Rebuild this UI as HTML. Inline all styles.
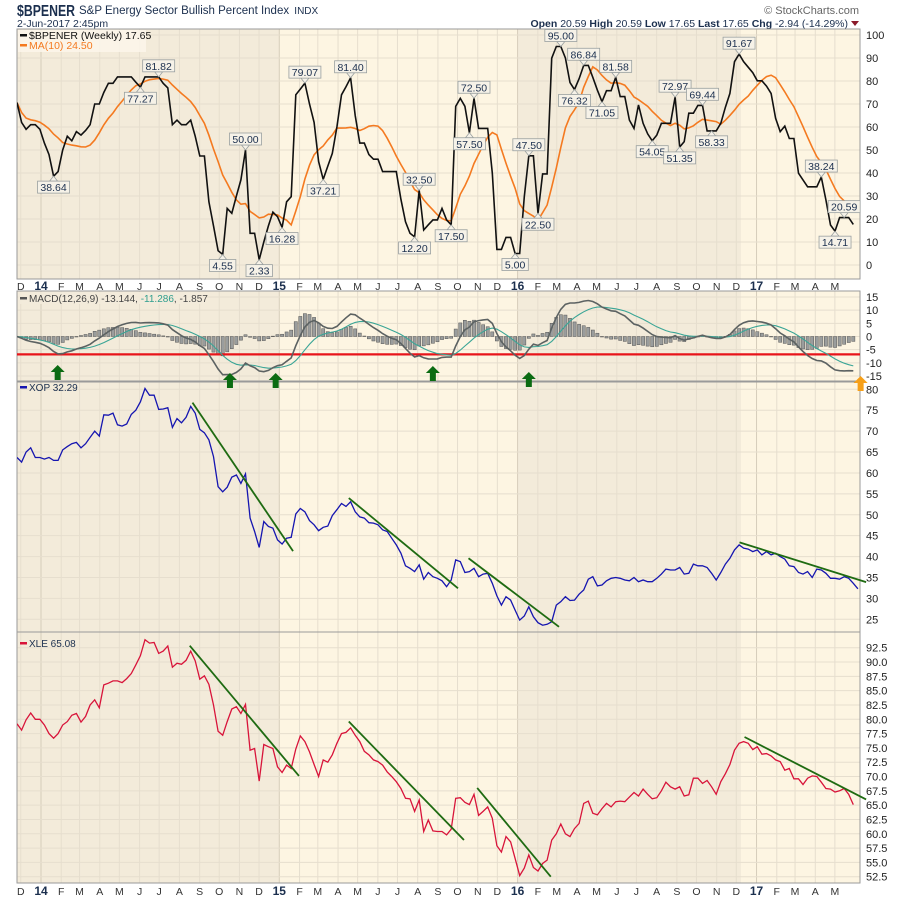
<!DOCTYPE html>
<html><head><meta charset="utf-8"><title>$BPENER chart</title>
<style>
html,body{margin:0;padding:0;background:#fff;}
svg{display:block;font-family:"Liberation Sans",Arial,sans-serif;}
</style></head>
<body>
<svg id="chart" width="900" height="900" viewBox="0 0 900 900" xmlns="http://www.w3.org/2000/svg">
  <g>
    <text x="17" y="16" font-size="16" font-weight="bold" fill="#1b2f4e" textLength="58" lengthAdjust="spacingAndGlyphs">$BPENER</text>
    <text x="79" y="14" font-size="11.5" fill="#1b2f4e">S&amp;P Energy Sector Bullish Percent Index <tspan font-size="10" dx="2">INDX</tspan></text>
    <text x="17" y="27" font-size="10.5" fill="#1b2f4e">2-Jun-2017 2:45pm</text>
    <text x="859" y="14" font-size="11" fill="#666" text-anchor="end">© StockCharts.com</text>
    <text x="848" y="27" font-size="10.5" fill="#1b2f4e" text-anchor="end"><tspan font-weight="bold">Open</tspan> 20.59  <tspan font-weight="bold">High</tspan> 20.59  <tspan font-weight="bold">Low</tspan> 17.65  <tspan font-weight="bold">Last</tspan> 17.65  <tspan font-weight="bold">Chg</tspan> -2.94 (-14.29%)</text>
    <polygon points="851,21 859,21 855,26" fill="#8b1a2a"/>
  </g>
  <g id="plot"></g>
</svg>
<script>
// ---------- DATA ----------
const bpener = [70.6,62,59,61,61,59,53,48,38.6,40.6,50,56,54,58,56.5,58.5,61,70,70,75,79,79,81.8,81.8,81.8,81.8,79.5,77.3,81.8,81.8,81.8,81.8,79,77,61,63,61,61,63,56,47.4,47.4,27.5,17,6.2,4.6,24.6,22.5,30,37,50,13.8,13.8,2.3,10,17,23,21,16.3,27.5,29.7,74,76.5,79.1,70,62,45,37.2,43,48.5,60,74,77.5,81.4,65,53,53,48,46,46,40.6,40.6,40.6,40.6,28.6,18.8,13.8,12.2,32.5,15.2,17.5,19.6,19.6,24.6,19.6,17.5,69,72.5,69,57.5,72.5,59.4,59.4,59.4,40,6.8,6.8,12,12,5,5,29.7,47.5,47.5,22.5,39.6,39.6,89.9,95,95,90,79.3,76.3,81,86.8,86.8,81.6,76,71,75.8,75.8,81.6,73.2,73.2,63,59.4,69.6,61.6,57,54,56.5,61.6,61.6,61.6,73,51.3,53.6,66,66,69.4,69.4,58.3,58.3,58.3,61.6,68.6,74.6,88.4,91.7,88.4,86,83.6,80.1,80.1,77.8,74.6,63.8,58,60.4,55,55,39.9,37,34,34,34,38.2,28.3,17.4,14.7,20.6,20.6,20.6,17.65];
const xop = [63.7,62.6,65,66,63.7,63.7,63.3,63.7,63,63,65.5,66.3,67,67.3,66,67,68.5,70,68.8,73.9,73.8,74.3,71.5,71.2,71.7,74,75,77,80.2,78.6,78.6,75.2,75.3,75.6,70.9,73,72,73.3,75.9,74.3,70.4,69.6,67.9,63.9,56.7,55.5,56.6,59,59.5,57.5,59.8,49.2,46,42.2,48.4,47.2,46.8,44,43,44.4,44.6,50.2,51.5,50.7,48.6,47.6,46.2,47,47.3,49.8,51.2,52.7,52,53.1,50.7,49.5,49.2,48.1,48,47.6,46.4,46,44.4,42.8,40.8,37.8,37.2,36.4,38,34.6,36.2,35.2,34.8,34.2,32.8,34.4,39.2,38.8,36.2,36.4,37.2,35.2,35.8,36,33.6,30.6,28.4,30.4,29.6,27.2,24.8,25.8,28,25.6,24.2,23.6,23.8,24.4,28.4,29.2,30.4,29.5,29.6,31,32,34.6,35.2,33,33.2,34.2,34.8,35,34.8,34.4,34.2,35,34,34.4,34,34,34.8,35.8,37,36.8,36.8,37.4,35.8,36,38.2,37.8,37.8,37.4,36,34.4,36.2,38.2,39.6,41.6,42.8,42,41.8,41.2,41.6,40.4,41.2,40.4,40.8,40,39.4,37.8,37.6,36.2,35.8,36.4,35,37,36.8,36,34.8,34.8,34.6,35.2,34.8,33.6,32.3];
const xle = [79.2,78.1,79.9,81.1,80,80,79,77.5,76.7,77.5,79,79.6,80.7,81,79.5,80.5,82.5,83.4,82,86,86.3,86.7,86.7,86.4,87.1,88,89.5,91.1,93.9,93.3,93.4,91.5,91.9,92.8,89.1,89.8,89.6,90.3,91.9,90.2,87,87.6,86.1,82.5,77.9,77.2,79.6,81.8,82.2,81,82.6,74.6,74.9,69.2,75.6,75.2,74.9,71.7,70.7,72,71.4,74.8,77.1,76.1,74.3,72.1,70,72.9,72.5,73.8,75.8,77.5,77.7,78.5,77.2,76.1,74.4,73.8,72.9,72.6,72,70.8,70,69.1,67.9,66.2,66.1,63.9,65.9,60.4,62.4,60.5,60.4,60.4,59.8,60.8,66.2,66.3,65.5,65.1,66.9,63.2,63.9,64.7,62.7,57.9,56.8,59.5,58.6,55.7,52.7,54,56.3,54.1,53.5,54.8,55.4,58.9,60,61.7,60,59.5,60.9,61.8,65.3,65.7,63.6,63.3,64.4,65.3,64.7,65.6,65.7,65.6,66.4,67.2,66.6,67.8,66.9,66.1,66.3,67.5,69,68.2,67.8,68.2,66.6,66.8,69.7,69.7,68.8,69.3,68.2,66.9,69.1,70.5,72.1,74.6,75.8,76.1,75.8,74.7,75.2,73.9,74,73.6,72.9,72.6,71.1,71.4,69.6,69.6,68.6,69.7,70.1,70,69,67.9,67.8,67.3,67.5,67.9,66.9,65.1];

// annotated peak/trough labels on $BPENER (week index, text, above/below)
const labelIdx = [8,27,31,45,50,53,58,63,67,73,87,88,95,99,100,109,112,114,119,122,124,128,131,139,144,145,150,152,158,176,179,181];
const labelText = ["38.64","77.27","81.82","4.55","50.00","2.33","16.28","79.07","37.21","81.40","12.20","32.50","17.50","57.50","72.50","5.00","47.50","22.50","95.00","76.32","86.84","71.05","81.58","54.05","72.97","51.35","69.44","58.33","91.67","38.24","14.71","20.59"];
const labelAbove = [0,0,1,0,1,0,0,1,0,1,0,1,0,0,1,0,1,0,1,0,1,0,1,0,1,0,1,0,1,1,0,1];

// trendlines: [startIdx, startVal, endIdx, endVal]
const xopTrendStart = [[38.4,76.8],[72.6,54.0],[98.8,39.6],[158.1,43.4]];
const xopTrendEnd   = [[60.4,41.3],[96.5,32.4],[118.6,23.2],[185.8,33.9]];
const xleTrendStart = [[37.8,92.85],[72.6,79.6],[100.7,68.0],[159.2,76.9]];
const xleTrendEnd   = [[61.7,70.1],[97.8,58.9],[116.8,52.5],[185.8,66.0]];

// buy/caution arrows in the MACD panel (week index)
const greenArrowIdx = [8.9,46.6,56.6,91.0,112.0];
const orangeArrowIdx = [184.6];
const macdThreshold = -6.8;

const bpTicks = [0,10,20,30,40,50,60,70,80,90,100];
const macdTicks = [15,10,5,0,-5,-10,-15];
const xopTicks = [25,30,35,40,45,50,55,60,65,70,75,80];
const xleTicks = [52.5,55.0,57.5,60.0,62.5,65.0,67.5,70.0,72.5,75.0,77.5,80.0,82.5,85.0,87.5,90.0,92.5];

// ---------- LAYOUT ----------
const NS = "http://www.w3.org/2000/svg";
const root = document.getElementById('plot');
const L = 17, R = 860;
const X = i => 17 + 4.57 * i;
const DAY0 = Date.UTC(2014,0,1);
const XD = (y,m) => 41 + ((Date.UTC(y,m,1) - DAY0) / 86400000 / 7) * 4.57;
const yBP = v => 265 - v * 2.3;
const yMACD = v => 336.5 - v * 2.633;
const yXOP = v => 389.3 + (80 - v) * 4.182;
const yXLE = v => 647.7 + (92.5 - v) * 5.725;

function el(tag, attrs, parent) {
  const e = document.createElementNS(NS, tag);
  for (const k in attrs) e.setAttribute(k, attrs[k]);
  (parent || root).appendChild(e);
  return e;
}
const panels = [
  {name:'bpener-panel', top:29, bot:279, ticks:bpTicks, y:yBP, fmt:v=>String(v)},
  {name:'macd-panel', top:291, bot:381, ticks:macdTicks, y:yMACD, fmt:v=>String(v)},
  {name:'xop-panel', top:382, bot:632, ticks:xopTicks, y:yXOP, fmt:v=>String(v)},
  {name:'xle-panel', top:632, bot:883, ticks:xleTicks, y:yXLE, fmt:v=>v.toFixed(1)}
];
const shadeBands = [[17,279.3,'#f3ebda'],[279.3,517.6,'#fdf5e2'],[517.6,741,'#f3ebda'],[741,860,'#fdf5e2']];

// months Dec 2013 .. May 2017
const months = [];
for (let y = 2013, m = 11; y < 2017 || (y === 2017 && m <= 4); ) {
  months.push([y,m]);
  m++; if (m > 11) { m = 0; y++; }
}
const monthLetters = ['J','F','M','A','M','J','J','A','S','O','N','D'];

panels.forEach((p, pi) => {
  const g = el('g', {});
  
  
  const cp = el('clipPath', {id:'clip'+pi}, g);
  el('rect', {x:L, y:p.top, width:R-L, height:p.bot-p.top}, cp);
  shadeBands.forEach(b => {
    const r = el('rect', {x:b[0], y:p.top, width:b[1]-b[0], height:p.bot-p.top, fill:b[2]}, g);
    
    
  });
  months.forEach(([y,m]) => {
    const x = XD(y,m);
    if (x < L || x > R) return;
    const gl = el('line', {x1:x, x2:x, y1:p.top, y2:p.bot, stroke: m===0 ? '#d6cdbb' : '#e6dece', 'stroke-width':1}, g);
    
    
  });
  p.ticks.forEach(v => {
    const y = p.y(v);
    const gl = el('line', {x1:L, x2:R, y1:y, y2:y, stroke:'#e6dece', 'stroke-width':1}, g);
    
    
    const t = el('text', {x:866, y:y+4, 'font-size':11, fill:'#222'}, g);
    
    
    t.textContent = p.fmt(v);
  });
  const border = el('rect', {x:L, y:p.top, width:R-L, height:p.bot-p.top, fill:'none', stroke:'#9a9a9a', 'stroke-width':1}, g);
  
  
  p.g = g;
});

// x-axis labels (top of MACD and bottom)
function monthAxis(yText, name) {
  const g = el('g', {});
  
  
  months.forEach(([y,m]) => {
    const x = XD(y,m);
    const t = el('text', {x:x, y:yText, 'font-size': m===0 ? 12 : 10.5, 'font-weight': m===0 ? 'bold':'normal', fill: m===0 ? '#1b2f4e' : '#333', 'text-anchor':'middle'}, g);
    
    
    t.textContent = m===0 ? String(y).slice(2) : monthLetters[m];
  });
}
monthAxis(290, 'x-axis-top');
monthAxis(895, 'x-axis-bottom');

function linePath(arr, yf) {
  return arr.map((v,i) => (i ? 'L' : 'M') + X(i).toFixed(1) + ',' + yf(v).toFixed(1)).join('');
}

// ---- Panel 1: BPENER + MA10 ----
const ma10 = bpener.map((v,i) => {
  const s = bpener.slice(Math.max(0,i-9), i+1);
  return s.reduce((a,b)=>a+b,0) / s.length;
});
const p1 = panels[0].g;
const maLine = el('path', {d:linePath(ma10, yBP), fill:'none', stroke:'#f47a20', 'stroke-width':1.6, 'clip-path':'url(#clip0)'}, p1);


const bpLine = el('path', {d:linePath(bpener, yBP), fill:'none', stroke:'#111', 'stroke-width':1.6, 'clip-path':'url(#clip0)'}, p1);



labelIdx.forEach((idx, k) => {
  const x = X(idx), yv = yBP(parseFloat(labelText[k]));
  const g = el('g', {}, p1);
  
  
  const w = labelText[k].length * 5.6 + 4, h = 12;
  const above = labelAbove[k] === 1;
  const by = above ? yv - 5 - h : yv + 5;
  const tri = above ? `${x-4},${by+h} ${x+4},${by+h} ${x},${yv}` : `${x-4},${by} ${x+4},${by} ${x},${yv}`;
  el('polygon', {points:tri, fill:'#f6f2e8', stroke:'#9aa0a0', 'stroke-width':0.8}, g);
  el('rect', {x:x-w/2, y:by, width:w, height:h, fill:'#f6f2e8', stroke:'#9aa0a0', 'stroke-width':0.8}, g);
  const t = el('text', {x:x, y:by+10, 'font-size':10.5, fill:'#1b2f4e', 'text-anchor':'middle'}, g);
  t.textContent = labelText[k];
});

const leg1 = el('g', {}, p1);


el('rect', {x:18, y:30, width:128, height:22, fill:'#fbf6ea', opacity:0.85}, leg1);
el('rect', {x:20, y:34, width:7, height:2.5, fill:'#111'}, leg1);
let lt = el('text', {x:29, y:39, 'font-size':10.5, fill:'#111'}, leg1);
lt.textContent = '$BPENER (Weekly) 17.65';
el('rect', {x:20, y:44, width:7, height:2.5, fill:'#f47a20'}, leg1);
lt = el('text', {x:29, y:49, 'font-size':10.5, fill:'#f47a20'}, leg1);
lt.textContent = 'MA(10) 24.50';

// ---- Panel 2: MACD(12,26,9) computed from bpener ----
function ema(arr, n) {
  const k = 2/(n+1); const out = []; let prev = arr[0];
  arr.forEach((v,i) => { prev = i ? v*k + prev*(1-k) : v; out.push(prev); });
  return out;
}
const e12 = ema(bpener, 12), e26 = ema(bpener, 26);
const macd = e12.map((v,i) => v - e26[i]);
const signal = ema(macd, 9);
const hist = macd.map((v,i) => v - signal[i]);
const p2 = panels[1].g;
hist.forEach((h,i) => {
  const y0 = yMACD(0), y1 = yMACD(h);
  const b = el('rect', {x:X(i)-1.6, y:Math.min(y0,y1), width:3.2, height:Math.max(0.5,Math.abs(y1-y0)), fill:'#9a9d9d', stroke:'#555', 'stroke-width':0.5, 'clip-path':'url(#clip1)'}, p2);
  
  
});
const thr = el('line', {x1:L, x2:R, y1:yMACD(macdThreshold), y2:yMACD(macdThreshold), stroke:'#e8141a', 'stroke-width':2.2}, p2);


const sigLine = el('path', {d:linePath(signal, yMACD), fill:'none', stroke:'#3aa596', 'stroke-width':1.1, 'clip-path':'url(#clip1)'}, p2);


const mLine = el('path', {d:linePath(macd, yMACD), fill:'none', stroke:'#5c6262', 'stroke-width':1.6, 'clip-path':'url(#clip1)'}, p2);


const leg2 = el('g', {}, p2);


el('rect', {x:18, y:292, width:188, height:12, fill:'#f3ebda', opacity:0.9}, leg2);
el('rect', {x:20, y:297, width:7, height:2.5, fill:'#555'}, leg2);
lt = el('text', {x:29, y:302, 'font-size':10, fill:'#444'}, leg2);
lt.innerHTML = 'MACD(12,26,9) -13.144, <tspan fill="#2f9e8e">-11.286</tspan>, -1.857';

function arrow(i, yTop, color, name) {
  const x = X(i);
  const a = el('polygon', {points:`${x},${yTop} ${x+7},${yTop+7} ${x+3},${yTop+7} ${x+3},${yTop+15} ${x-3},${yTop+15} ${x-3},${yTop+7} ${x-7},${yTop+7}`, fill:color});
  
  
}
const arrowTops = [365,373,373,366,372];
greenArrowIdx.forEach((i,k) => arrow(i, arrowTops[k], '#0b6b12', 'buy-signal-arrow'));
orangeArrowIdx.forEach(i => arrow(i, 376, '#f6a01a', 'caution-arrow'));

// ---- Panel 3: XOP ----
const p3 = panels[2].g;
const xopLine = el('path', {d:linePath(xop, yXOP), fill:'none', stroke:'#1515b0', 'stroke-width':1.3, 'clip-path':'url(#clip2)'}, p3);


xopTrendStart.forEach((s,k) => {
  const e = xopTrendEnd[k];
  const tl = el('line', {x1:X(s[0]), y1:yXOP(s[1]), x2:X(e[0]), y2:yXOP(e[1]), stroke:'#1f6b12', 'stroke-width':1.8});
  
  
});
const leg3 = el('g', {}, p3);


el('rect', {x:20, y:386, width:7, height:2.5, fill:'#1515b0'}, leg3);
lt = el('text', {x:29, y:391, 'font-size':10, fill:'#1b2f4e'}, leg3);
lt.textContent = 'XOP 32.29';

// ---- Panel 4: XLE ----
const p4 = panels[3].g;
const xleLine = el('path', {d:linePath(xle, yXLE), fill:'none', stroke:'#d8143a', 'stroke-width':1.3, 'clip-path':'url(#clip3)'}, p4);


xleTrendStart.forEach((s,k) => {
  const e = xleTrendEnd[k];
  const tl = el('line', {x1:X(s[0]), y1:yXLE(s[1]), x2:X(e[0]), y2:yXLE(e[1]), stroke:'#1f6b12', 'stroke-width':1.8});
  
  
});
const leg4 = el('g', {}, p4);


el('rect', {x:20, y:642, width:7, height:2.5, fill:'#d8143a'}, leg4);
lt = el('text', {x:29, y:647, 'font-size':10, fill:'#1b2f4e'}, leg4);
lt.textContent = 'XLE 65.08';
</script>
</body></html>
